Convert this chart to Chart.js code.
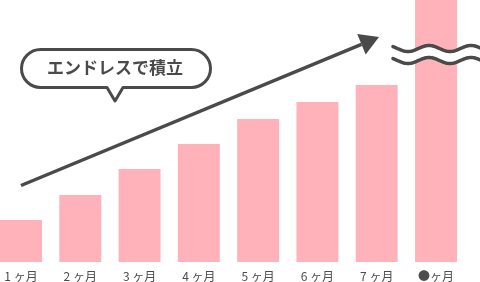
<!DOCTYPE html>
<html>
<head>
<meta charset="utf-8">
<script src="https://cdn.jsdelivr.net/npm/chart.js@4"></script>
<style>
  html, body { margin: 0; padding: 0; background: #fff; }
  #wrap { width: 480px; height: 282px; position: relative; }
</style>
</head>
<body>
<div id="wrap"><canvas id="barChart"></canvas></div>
<script>
// data
const months = ["1 ヶ月", "2 ヶ月", "3 ヶ月", "4 ヶ月", "5 ヶ月", "6 ヶ月", "7 ヶ月", "●ヶ月"];
const amounts = [42, 67, 93, 118, 143, 160, 177, 320];
const yMax = 262;

const ink = '#4a4a4a';

// arrow, speech bubble and the wavy "break" mark
const overlay = {
  id: 'overlay',
  afterDatasetsDraw(chart) {
    const c = chart.ctx;
    c.save();
    c.strokeStyle = ink;
    c.fillStyle = ink;

    // arrow
    const x1 = 21, y1 = 185.5, tx = 379, ty = 37;
    const ang = Math.atan2(ty - y1, tx - x1);
    const hl = 19, hw = 11;
    const bx = tx - hl * Math.cos(ang), by = ty - hl * Math.sin(ang);
    c.lineWidth = 3.5;
    c.beginPath();
    c.moveTo(x1, y1);
    c.lineTo(bx, by);
    c.stroke();
    c.beginPath();
    c.moveTo(tx, ty);
    c.lineTo(bx + hw * Math.sin(ang), by - hw * Math.cos(ang));
    c.lineTo(bx - hw * Math.sin(ang), by + hw * Math.cos(ang));
    c.closePath();
    c.fill();

    // speech bubble
    const L = 21.5, R = 210.5, T = 49.5, B = 87.5, r = (B - T) / 2;
    c.beginPath();
    c.moveTo(L + r, T);
    c.lineTo(R - r, T);
    c.arc(R - r, T + r, r, -Math.PI / 2, Math.PI / 2);
    c.lineTo(123, B);
    c.lineTo(115, 101);
    c.lineTo(107, B);
    c.lineTo(L + r, B);
    c.arc(L + r, T + r, r, Math.PI / 2, Math.PI * 1.5);
    c.closePath();
    c.fillStyle = '#fff';
    c.fill();
    c.lineWidth = 3;
    c.lineJoin = 'round';
    c.stroke();
    c.fillStyle = ink;
    c.font = 'bold 17px "Noto Sans CJK JP"';
    c.textAlign = 'center';
    c.textBaseline = 'middle';
    c.fillText('エンドレスで積立', 115, 68);

    // wavy break lines over the last bar
    const wx0 = 393, wx1 = 482, P = 42, amp = 3, ph = 397.5;
    const wy = (x, yc) => yc + amp * Math.sin(2 * Math.PI * (x - ph) / P);
    const up = 48.5, lo = 60.5;
    c.beginPath();
    for (let x = wx0; x <= wx1; x++) c.lineTo(x, wy(x, up));
    for (let x = wx1; x >= wx0; x--) c.lineTo(x, wy(x, lo));
    c.closePath();
    c.fillStyle = '#fff';
    c.fill();
    c.lineWidth = 3.5;
    c.lineCap = 'round';
    [up, lo].forEach(yc => {
      c.beginPath();
      for (let x = wx0; x <= wx1; x++) c.lineTo(x, wy(x, yc));
      c.stroke();
    });
    c.restore();
  }
};

const ctx = document.getElementById('barChart').getContext('2d');
const barChart = new Chart(ctx, {
  type: 'bar',
  data: {
    labels: months,
    datasets: [{
      data: amounts,
      backgroundColor: '#ffb2ba',
      borderWidth: 0,
      barPercentage: 1,
      categoryPercentage: 0.708,
      clip: false
    }]
  },
  options: {
    responsive: true,
    maintainAspectRatio: false,
    animation: false,
    devicePixelRatio: 1,
    layout: { padding: { left: 21, right: 44, top: 0, bottom: 0 } },
    plugins: {
      legend: { display: false },
      tooltip: { enabled: false }
    },
    scales: {
      x: {
        offset: false,
        grid: { display: false, drawTicks: false },
        border: { display: false },
        ticks: {
          color: '#4d4d4d',
          font: { family: '"Noto Sans CJK JP"', size: 12 },
          padding: 7,
          maxRotation: 0,
          autoSkip: false
        },
        afterFit: (scale) => {
          scale.height = 20;
          scale.paddingLeft = 0;
          scale.paddingRight = 0;
        }
      },
      y: {
        display: false,
        min: 0,
        max: yMax
      }
    }
  },
  plugins: [overlay]
});
</script>
</body>
</html>
